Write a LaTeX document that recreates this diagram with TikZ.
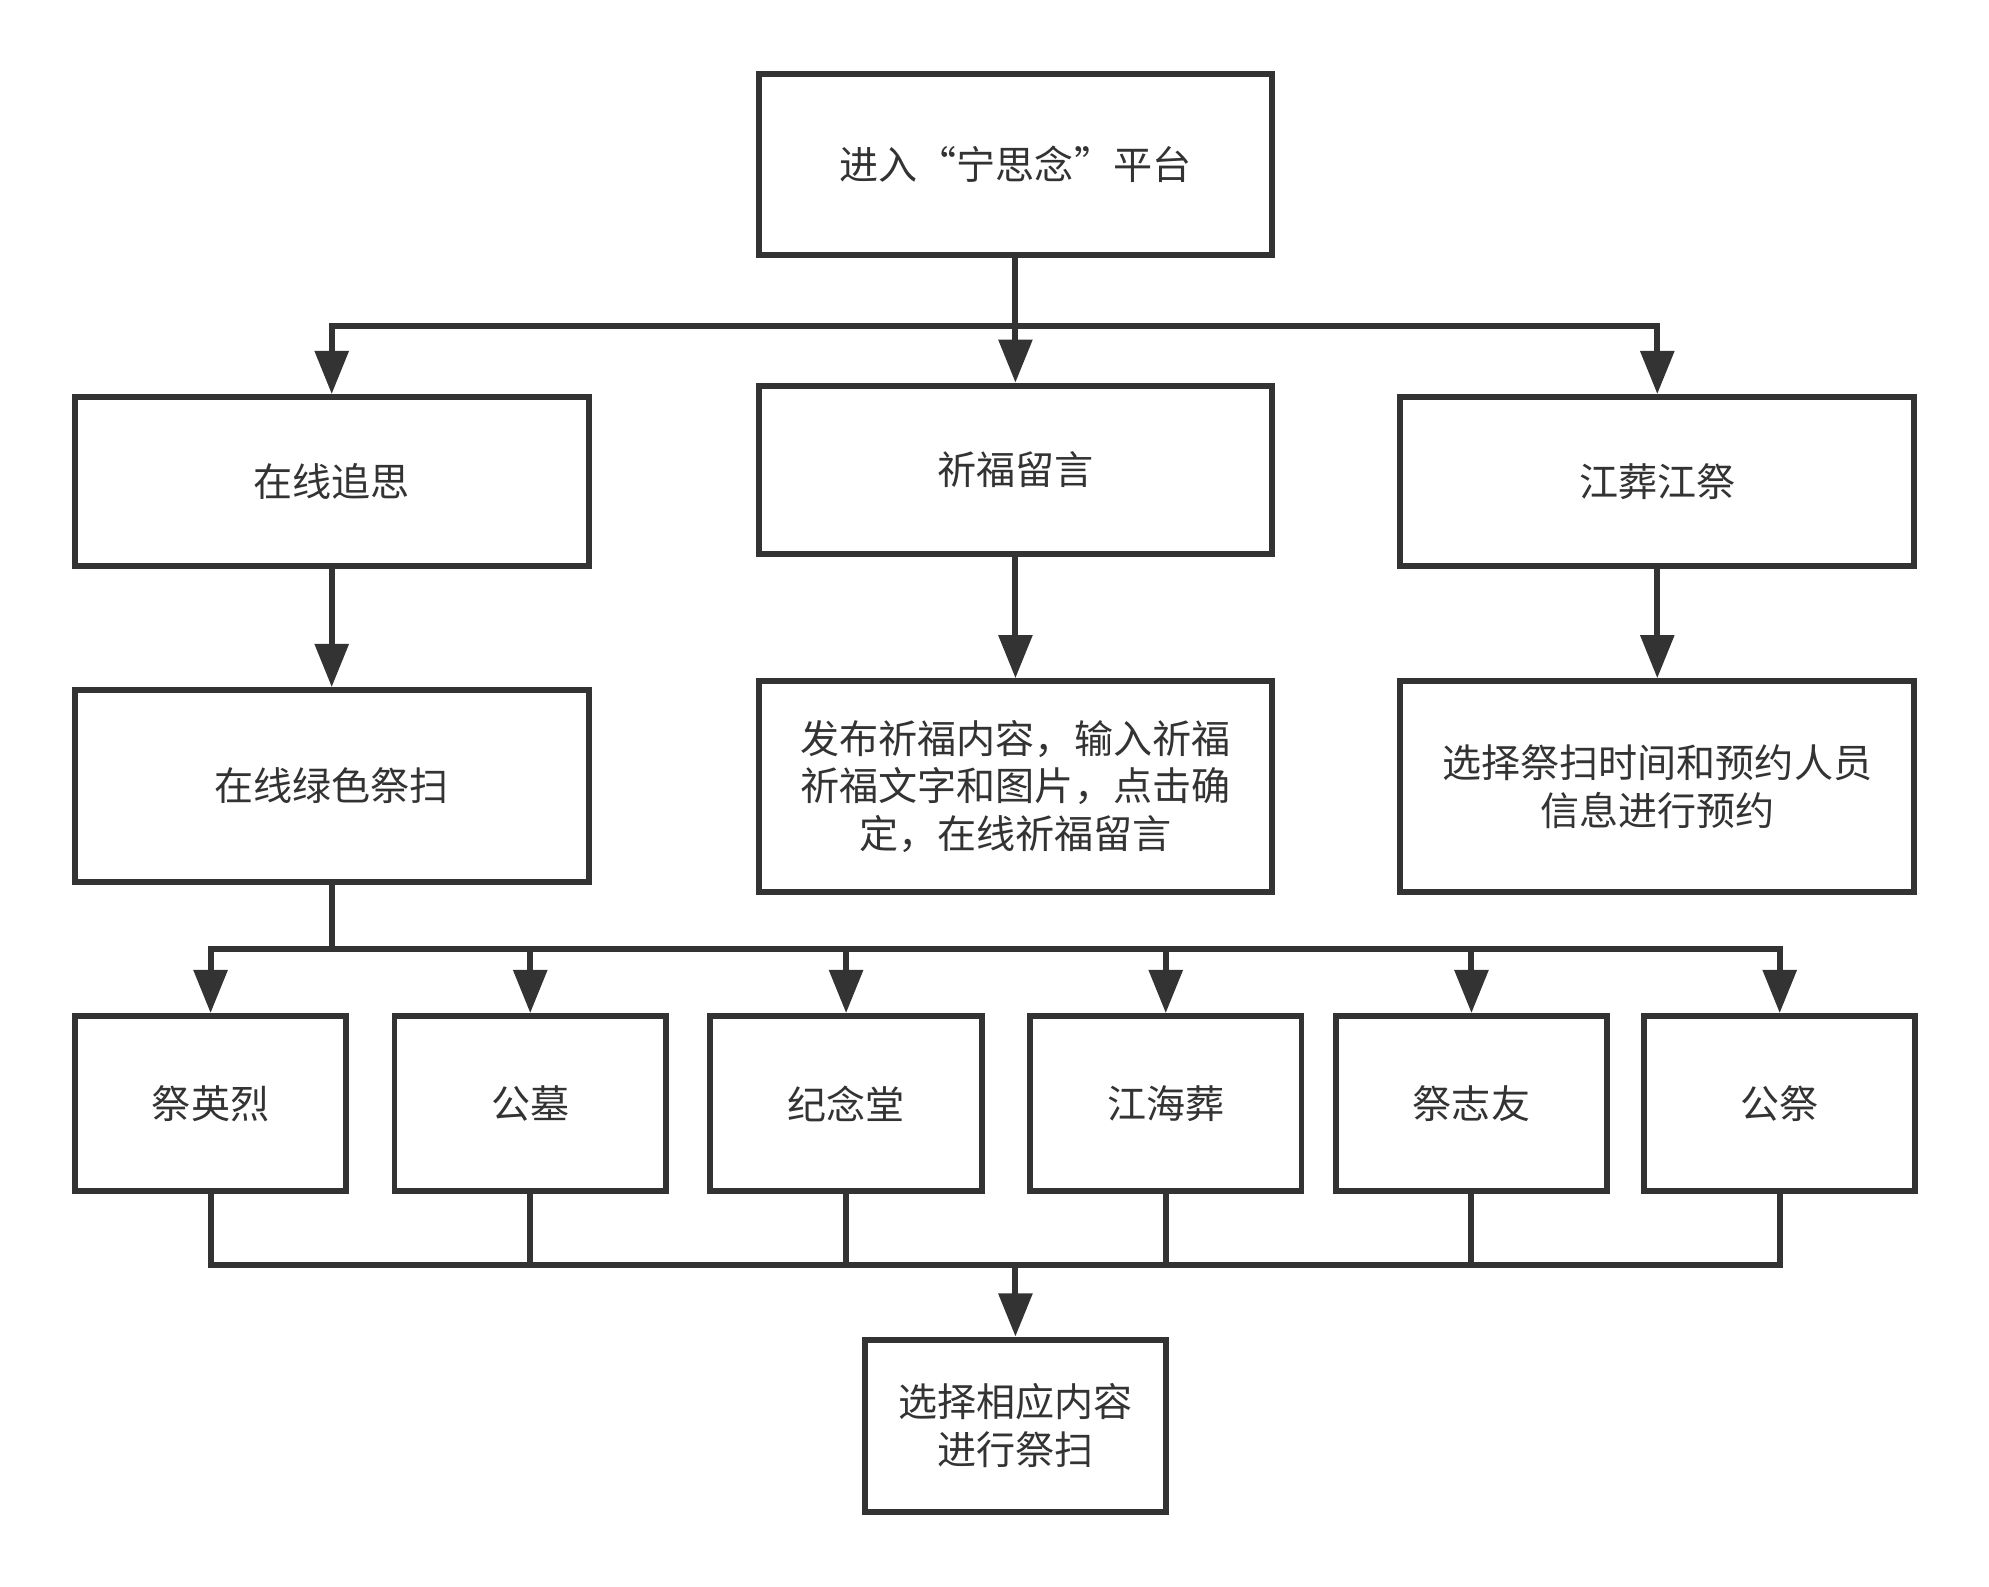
\documentclass[tikz,border=0pt]{standalone}
\usepackage{fontspec}
\setmainfont{Noto Sans CJK SC}
\usetikzlibrary{arrows.meta,positioning}
\definecolor{linegray}{HTML}{333333}
\tikzset{
	box/.style={draw=linegray, line width=2.35pt, fill=white, text=linegray, align=center, inner sep=0pt,
		font=\fontsize{15.4pt}{18.75pt}\selectfont},
	link/.style={draw=linegray, line width=2.35pt},
	arr/.style={link, -{Triangle[length=17pt, width=13pt]}},
}

\begin{document}
\begin{tikzpicture}[x=0.5pt, y=-0.5pt]
			%%%%% START %%%%%
			\useasboundingbox[fill=white] (0, 0) rectangle (1568, 1251);
			
			\node[box, minimum width=202.5pt, minimum height=71.5pt] (top) at (800.5, 129.5) {进入“宁思念”平台};
			
			\node[box, minimum width=202.5pt, minimum height=66.5pt] (online) at (261.5, 379.5) {在线追思};
			\node[box, minimum width=202.5pt, minimum height=66.5pt] (pray) at (800.5, 370.5) {祈福留言};
			\node[box, minimum width=202.5pt, minimum height=66.5pt] (river) at (1306.5, 379.5) {江葬江祭};
			
			\node[box, minimum width=202.5pt, minimum height=75.5pt] (green) at (261.5, 619.5) {在线绿色祭扫};
			\node[box, minimum width=202.5pt, minimum height=83pt] (post) at (800.5, 620) {发布祈福内容，输入祈福\\祈福文字和图片，点击确\\定，在线祈福留言};
			\node[box, minimum width=202.5pt, minimum height=83pt] (book) at (1306.5, 620) {选择祭扫时间和预约人员\\信息进行预约};
			
			\node[box, minimum width=107pt, minimum height=69pt] (hero) at (166, 870) {祭英烈};
			\node[box, minimum width=107pt, minimum height=69pt] (tomb) at (418, 870) {公墓};
			\node[box, minimum width=107pt, minimum height=69pt] (hall) at (667, 870) {纪念堂};
			\node[box, minimum width=107pt, minimum height=69pt] (sea) at (919, 870) {江海葬};
			\node[box, minimum width=107pt, minimum height=69pt] (friend) at (1160, 870) {祭志友};
			\node[box, minimum width=107pt, minimum height=69pt] (public) at (1403, 870) {公祭};
			
			\node[box, minimum width=118.5pt, minimum height=68pt] (choose) at (800.5, 1124) {选择相应内容\\进行祭扫};
			
			\coordinate (split) at (800.5, 257);
			\coordinate (fork) at (261.5, 748);
			\coordinate (merge) at (800.5, 997);
			
			\draw[arr] (top.south) -- (pray.north);
			\draw[arr] (split) -| (online.north);
			\draw[arr] (split) -| (river.north);
			
			\draw[arr] (online.south) -- (green.north);
			\draw[arr] (pray.south) -- (post.north);
			\draw[arr] (river.south) -- (book.north);
			
			\draw[link] (green.south) -- (fork);
			\draw[arr] (fork) -| (hero.north);
			\draw[arr] (fork) -| (tomb.north);
			\draw[arr] (fork) -| (hall.north);
			\draw[arr] (fork) -| (sea.north);
			\draw[arr] (fork) -| (friend.north);
			\draw[arr] (fork) -| (public.north);
			
			\draw[link] (hero.south) |- (merge);
			\draw[link] (tomb.south) |- (merge);
			\draw[link] (hall.south) |- (merge);
			\draw[link] (sea.south) |- (merge);
			\draw[link] (friend.south) |- (merge);
			\draw[link] (public.south) |- (merge);
			\draw[arr] (merge) -- (choose.north);
			
			%%%%% END %%%%%
\end{tikzpicture}
\end{document}
